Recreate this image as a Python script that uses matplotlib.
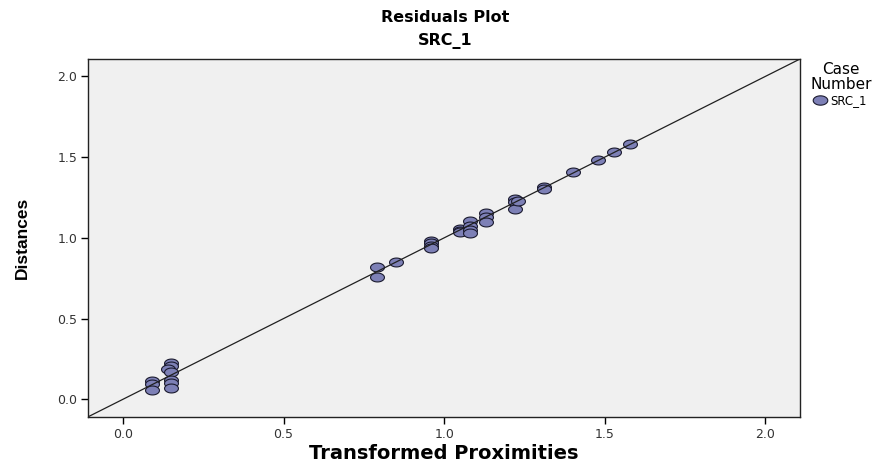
import matplotlib
matplotlib.use("Agg")
import matplotlib.pyplot as plt
import numpy as np
from matplotlib.path import Path
from matplotlib.lines import Line2D

plt.rcParams['font.family'] = ['DejaVu Sans']

# Data
transformed_proximities = [
    0.09, 0.09, 0.09,
    0.15, 0.15, 0.14, 0.15, 0.15, 0.15, 0.15,
    0.79, 0.79, 0.85,
    0.96, 0.96, 0.96, 0.96,
    1.05, 1.05, 1.05,
    1.08, 1.08, 1.08, 1.08,
    1.13, 1.13, 1.13,
    1.22, 1.22, 1.22, 1.23,
    1.31, 1.31,
    1.40, 1.48, 1.53, 1.58,
]
distances = [
    0.115, 0.095, 0.058,
    0.225, 0.205, 0.190, 0.170, 0.120, 0.098, 0.068,
    0.820, 0.760, 0.850,
    0.980, 0.965, 0.950, 0.940,
    1.055, 1.045, 1.035,
    1.105, 1.075, 1.050, 1.030,
    1.155, 1.130, 1.100,
    1.240, 1.220, 1.180, 1.230,
    1.315, 1.300,
    1.405, 1.485, 1.530, 1.580,
]
xticks = [0.0, 0.5, 1.0, 1.5, 2.0]
yticks = [0.0, 0.5, 1.0, 1.5, 2.0]
series_name = "SRC_1"

W, H = 892, 463
fig = plt.figure(figsize=(W / 100, H / 100), dpi=100)
ax_l, ax_r, ax_t, ax_b = 88.3, 800.0, 59.0, 416.7
ax = fig.add_axes([ax_l / W, 1 - ax_b / H, (ax_r - ax_l) / W, (ax_b - ax_t) / H])
ax.set_facecolor('#F0F0F0')

lo, hi = -0.108, 2.108
ax.set_xlim(lo, hi)
ax.set_ylim(lo, hi)

# reference line y = x (drawn over the markers, as in the reference)
ax.plot([lo, hi], [lo, hi], color='#202020', lw=0.9, zorder=4)

# elliptical marker (points look wider than tall)
t = np.linspace(0, 2 * np.pi, 60)
ell = Path(np.column_stack([np.cos(t), 0.64 * np.sin(t)]), closed=True)

face = '#7D80B6'
edge = '#1a1a2e'
ax.scatter(transformed_proximities, distances, marker=ell, s=100,
           facecolor=face, edgecolor=edge, linewidths=0.8, zorder=3)

ax.set_xticks(xticks)
ax.set_yticks(yticks)
ax.set_xticklabels([f"{v:.1f}" for v in xticks])
ax.set_yticklabels([f"{v:.1f}" for v in yticks])
ax.tick_params(direction='out', length=5, width=1, labelsize=9,
               labelcolor='#333333', pad=3)
for s in ax.spines.values():
    s.set_color('#222222')
    s.set_linewidth(1)

ax.set_xlabel("Transformed Proximities", fontsize=14, fontweight='bold')
ax.xaxis.set_label_coords(0.5, (ax_b - 444) / (ax_b - ax_t))
ax.set_ylabel("Distances", fontsize=12.5, fontweight='bold',
              family=['Liberation Sans', 'DejaVu Sans'])
ax.yaxis.set_label_coords((30 - ax_l) / (ax_r - ax_l), 0.5)

cx = 445 / W
fig.text(cx, 1 - 18 / H, "Residuals Plot", ha='center', va='center',
         fontsize=11.5, fontweight='bold')
fig.text(cx, 1 - 41 / H, "SRC_1", ha='center', va='center',
         fontsize=11.5, fontweight='bold')

# legend
handle = Line2D([], [], linestyle='none', marker=ell, markersize=10.5,
                markerfacecolor=face, markeredgecolor=edge, markeredgewidth=0.8)
leg = fig.legend([handle], [series_name], title="Case\nNumber",
                 loc='upper left', bbox_to_anchor=(810 / W, 1 - 62 / H),
                 frameon=False, fontsize=8.5, title_fontsize=11,
                 handlelength=0.9, handletextpad=0.45, borderpad=0.0,
                 borderaxespad=0.0, labelspacing=0.2)
leg.get_title().set_multialignment('center')
leg.get_title().set_linespacing(1.0)

fig.savefig("out.png", dpi=100)
